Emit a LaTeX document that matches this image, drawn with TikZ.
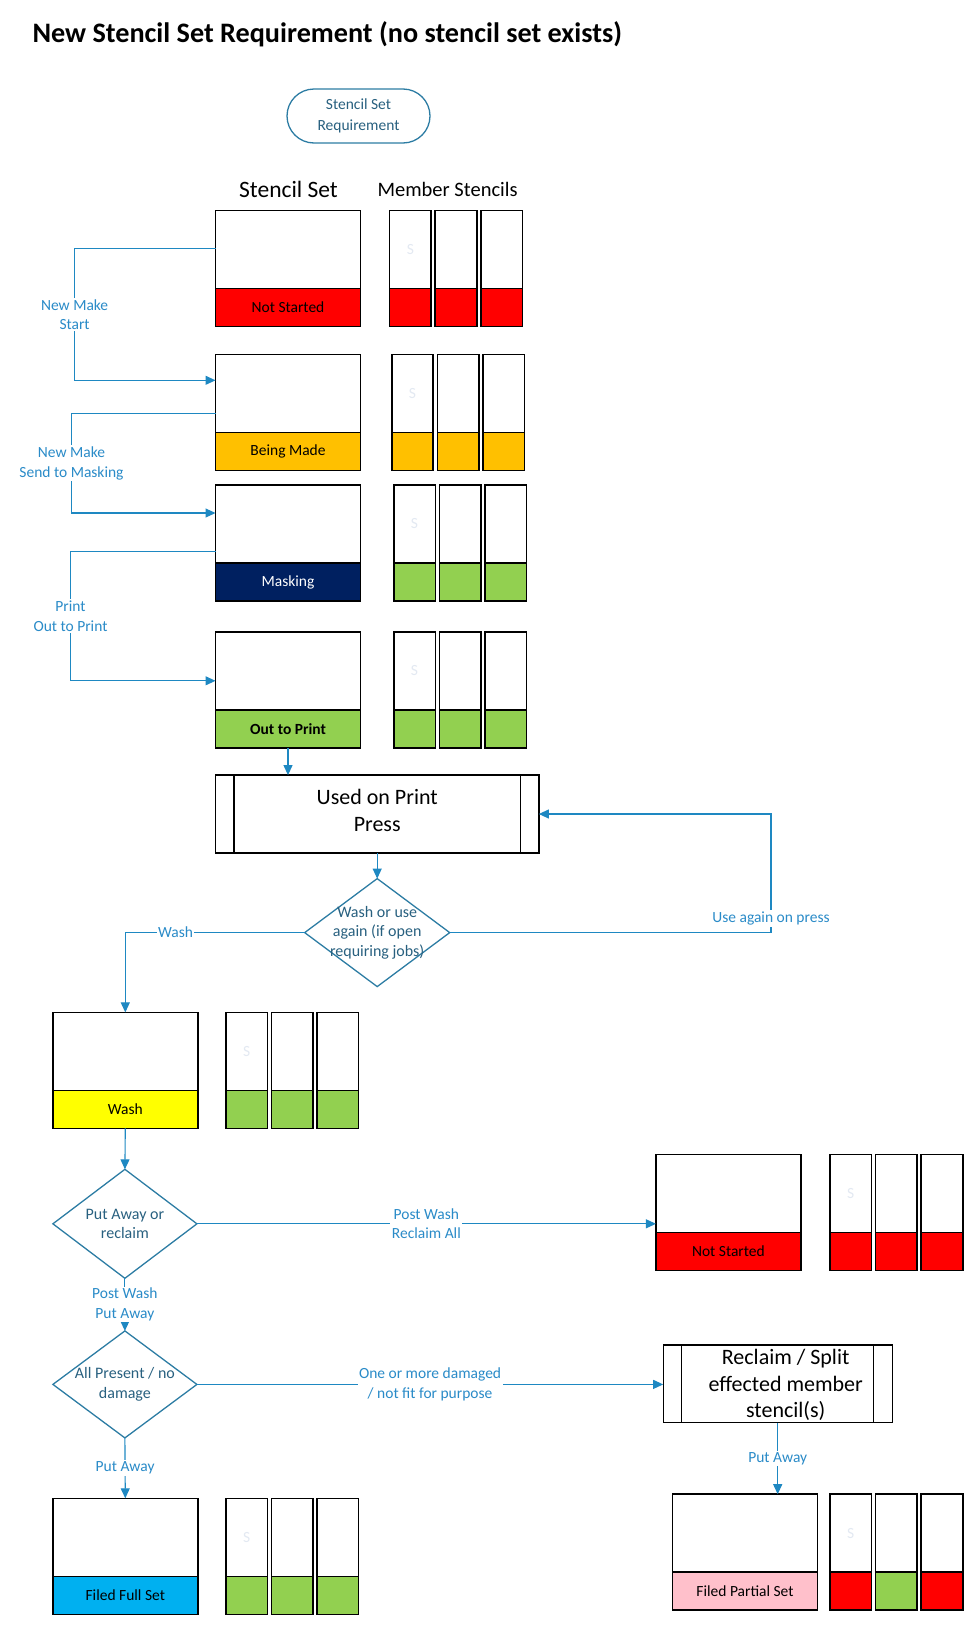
\documentclass[tikz,border=0pt]{standalone}
\usepackage{fontspec}
\setmainfont{Carlito}
\usetikzlibrary{shapes.geometric,arrows.meta}

\definecolor{connblue}{HTML}{1E88C2}
\definecolor{lblblue}{HTML}{2A8BC8}
\definecolor{shapeblue}{HTML}{2C7CA3}
\definecolor{shapetext}{HTML}{28607F}
\definecolor{ghostgrey}{HTML}{E3E9F2}
\definecolor{stred}{HTML}{FF0000}
\definecolor{stamber}{HTML}{FFC000}
\definecolor{stnavy}{HTML}{002060}
\definecolor{stgreen}{HTML}{92D050}
\definecolor{styellow}{HTML}{FFFF00}
\definecolor{stcyan}{HTML}{00B0F0}
\definecolor{stpink}{HTML}{FFC0CB}

\newcommand{\lblfont}{\fontsize{15.5}{19.5}\selectfont}

\tikzset{
  conn/.style={draw=connblue, line width=1.1pt},
  arr/.style={conn, -{Triangle[length=10pt,width=9pt]}},
  lbl/.style={text=lblblue, fill=white, inner sep=1.5pt, align=center, font=\lblfont},
  setbox/.style={draw, line width=1.6pt, fill=white, anchor=north west, outer sep=0pt,
    minimum width=145pt, minimum height=116pt, inner sep=0pt},
  band/.style={draw, line width=1.6pt, anchor=south, outer sep=0pt,
    minimum width=145pt, minimum height=38pt, inner sep=0pt, font=\lblfont},
  memberbox/.style={draw, line width=1.6pt, fill=white, anchor=north west, outer sep=0pt,
    minimum width=41.5pt, minimum height=116pt, inner sep=0pt},
  memberband/.style={draw, line width=1.6pt, anchor=south, outer sep=0pt,
    minimum width=41.5pt, minimum height=38pt, inner sep=0pt},
  ghost/.style={text=ghostgrey, font=\lblfont},
  head/.style={font=\fontsize{23.5}{28}\selectfont},
  term/.style={draw=shapeblue, line width=1.3pt, rounded corners=27pt, text=shapetext,
    minimum width=143pt, minimum height=54pt, align=center,
    font=\fontsize{15.5}{20.7}\selectfont},
  proc/.style={draw, line width=1.3pt, outer sep=0pt},
  ptext/.style={align=center, font=\fontsize{22}{26.5}\selectfont},
  decision/.style={diamond, draw=shapeblue, line width=1.3pt, inner sep=0pt, outer sep=0pt},
  dtext/.style={text=shapetext, align=center, font=\fontsize{16}{19.7}\selectfont}
}

% stencil set box: name, x, y, band fill, band text, text colour
\newcommand{\stencilset}[6]{%
  \node[setbox] (#1) at (#2,#3) {};
  \node[band, fill=#4, text=#6] (#1b) at (#1.south) {#5};
}
% member stencils: name, x, y, three band fills
\newcommand{\memberset}[6]{%
  \foreach \f [count=\i from 0] in {#4,#5,#6} {
    \node[memberbox] (#1-\i) at ({#2+\i*45.6},#3) {};
    \node[memberband, fill=\f] (#1-\i b) at (#1-\i.south) {};
  }
  \node[ghost] (#1-s) at ([yshift=-39pt]#1-0.north) {S};
}

\begin{document}
\begin{tikzpicture}[x=1pt,y=-1pt]
  \useasboundingbox (0,0) rectangle (973,1625);

  \node[anchor=base west, font=\bfseries\fontsize{28.2}{33}\selectfont] (title) at (29,42.7)
    {New Stencil Set Requirement (no stencil set exists)};

  \node[term] (req) at (358.5,116) {Stencil Set\\Requirement};

  \node[head] (hset) at (288.5,189.6) {Stencil Set};
  \node[head, font=\fontsize{20.5}{25}\selectfont] (hmem) at (447.6,189.6) {Member Stencils};

  % stencil set states
  \stencilset{ns1}{215.5}{210.3}{stred}{Not Started}{black}
  \memberset{m1}{389.6}{210.3}{stred}{stred}{stred}
  \stencilset{bm}{215.5}{354.4}{stamber}{Being Made}{black}
  \memberset{m2}{391.7}{354.4}{stamber}{stamber}{stamber}
  \stencilset{mk}{215.5}{485}{stnavy}{Masking}{white}
  \memberset{m3}{393.8}{485}{stgreen}{stgreen}{stgreen}
  \stencilset{op}{215.5}{632}{stgreen}{\textbf{Out to Print}}{black}
  \memberset{m4}{393.8}{632}{stgreen}{stgreen}{stgreen}

  \node[proc, minimum width=323.3pt, minimum height=77.8pt,
    label={[ptext, yshift=3.5pt]center:Used on Print\\Press}] (uop) at (377.2,814) {};
  \draw[line width=1.3pt] ([xshift=18.5pt]uop.north west) -- ([xshift=18.5pt]uop.south west);
  \draw[line width=1.3pt] ([xshift=-18.5pt]uop.north east) -- ([xshift=-18.5pt]uop.south east);

  \node[decision, minimum width=145pt, minimum height=108pt,
    label={[dtext]center:Wash or use\\again (if open\\requiring jobs)}] (d1) at (377.2,932.6) {};

  \stencilset{wash}{52.8}{1012.4}{styellow}{Wash}{black}
  \memberset{m5}{225.9}{1012.4}{stgreen}{stgreen}{stgreen}

  \node[decision, minimum width=144pt, minimum height=109pt,
    label={[dtext]center:Put Away or\\reclaim}] (d2) at (124.9,1223.8) {};

  \stencilset{ns2}{655.9}{1154.3}{stred}{Not Started}{black}
  \memberset{m6}{830}{1154.3}{stred}{stred}{stred}

  \node[decision, minimum width=144pt, minimum height=107pt,
    label={[dtext]center:All Present / no\\damage}] (d3) at (124.9,1384.4) {};

  \node[proc, minimum width=229pt, minimum height=77.7pt,
    label={[ptext, xshift=8pt, yshift=-1.5pt]center:Reclaim / Split\\effected member\\stencil(s)}] (rs) at (777.7,1383.8) {};
  \draw[line width=1.3pt] ([xshift=18.6pt]rs.north west) -- ([xshift=18.6pt]rs.south west);
  \draw[line width=1.3pt] ([xshift=-18.6pt]rs.north east) -- ([xshift=-18.6pt]rs.south east);

  \stencilset{ff}{52.8}{1498.3}{stcyan}{Filed Full Set}{black}
  \memberset{m7}{225.9}{1498.3}{stgreen}{stgreen}{stgreen}
  \stencilset{fp}{672.5}{1494.2}{stpink}{Filed Partial Set}{black}
  \memberset{m8}{830}{1494.2}{stred}{stgreen}{stred}

  % side lanes
  \coordinate (lane1) at (74.6,0);
  \coordinate (lane2) at (71.5,0);
  \coordinate (lane3) at (70.5,0);
  \coordinate (lane4) at (771,0);
  \coordinate (s1out) at ([yshift=-38.4pt]ns1.north west);
  \coordinate (s2in) at ([yshift=-25.9pt]bm.north west);
  \coordinate (s2out) at ([yshift=-59pt]bm.north west);
  \coordinate (s3in) at ([yshift=-28pt]mk.north west);
  \coordinate (s3out) at ([yshift=-66.3pt]mk.north west);
  \coordinate (s4in) at ([yshift=-48.8pt]op.north west);

  \draw[arr] (s1out) -- (s1out -| lane1) -- node[lbl]{New Make\\Start} (s2in -| lane1) -- (s2in);
  \draw[arr] (s2out) -- (s2out -| lane2) -- node[lbl]{New Make\\Send to Masking} (s3in -| lane2) -- (s3in);
  \draw[arr] (s3out) -- (s3out -| lane3) -- node[lbl]{Print\\Out to Print} (s4in -| lane3) -- (s4in);
  \draw[arr] (opb.south) -- (opb.south |- uop.north);
  \draw[arr] (uop.south) -- (d1.north);
  \draw[arr] (d1.west) -| node[lbl, pos=0.36]{Wash} (wash.north);
  \draw[arr] (d1.east) -- (d1.east -| lane4) -- node[lbl, pos=0.12]{Use again on press} (uop.east -| lane4) -- (uop.east);
  \draw[arr] (washb.south) -- (d2.north);
  \draw[arr] (d2.east) -- node[lbl]{Post Wash\\Reclaim All} (d2.east -| ns2.west);
  \draw[arr] (d2.south) -- node[lbl]{Post Wash\\Put Away} (d3.north);
  \draw[arr] (d3.east) -- node[lbl]{One or more damaged\\/ not fit for purpose} (d3.east -| rs.west);
  \draw[arr] (d3.south) -- node[lbl]{Put Away} (ff.north);
  \draw[arr] (rs.south) -- node[lbl]{Put Away} (rs.south |- fp.north);
\end{tikzpicture}
\end{document}
